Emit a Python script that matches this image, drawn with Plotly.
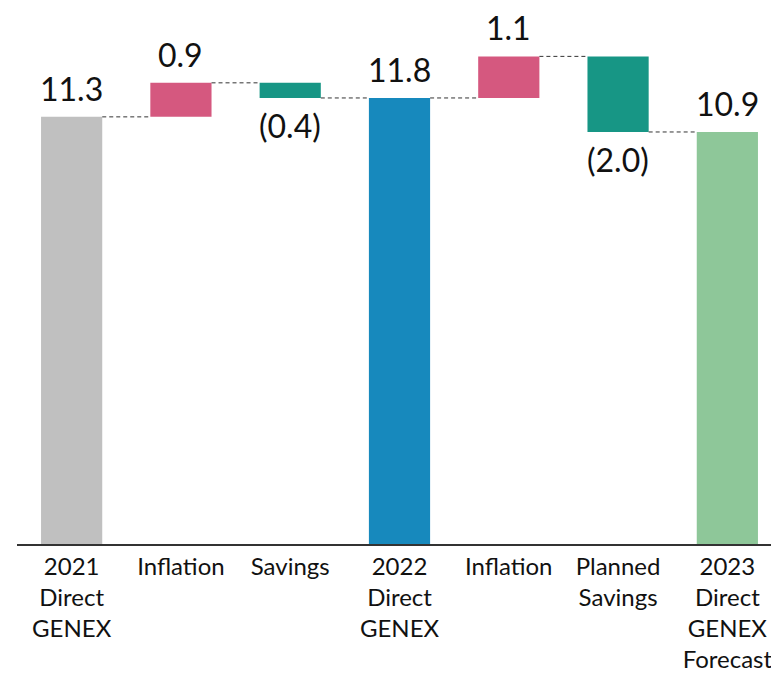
import plotly.graph_objects as go

categories = ["2021<br>Direct<br>GENEX", "Inflation", "Savings", "2022<br>Direct<br>GENEX",
              "Inflation", "Planned<br>Savings", "2023<br>Direct<br>GENEX<br>Forecast"]
measures = ["absolute", "relative", "relative", "total", "relative", "relative", "total"]
values = [11.3, 0.9, -0.4, None, 1.1, -2.0, None]
colors = ["#c0c0c0", "#d5587f", "#179685", "#1789bd", "#d5587f", "#179685", "#8ec799"]

# compute bases / heights from data
bases, heights, running = [], [], 0.0
for m, v in zip(measures, values):
    if m == "absolute":
        running = v
        bases.append(0); heights.append(v)
    elif m == "total":
        bases.append(0); heights.append(round(running, 2))
    else:
        bases.append(round(running, 2)); heights.append(v)
        running += v
ends = [b + h for b, h in zip(bases, heights)]
labels = [f"{h:.1f}" if h >= 0 else f"({abs(h):.1f})" for h in heights]

x_idx = list(range(len(categories)))
W = 0.56

fig = go.Figure(go.Bar(
    x=x_idx, y=heights, base=bases, width=W,
    marker=dict(color=colors, line=dict(width=0)),
    hoverinfo="skip",
))

shapes = []
for i in range(len(categories) - 1):
    lvl = ends[i]
    shapes.append(dict(type="line", xref="x", yref="y",
                       x0=i + W / 2, x1=i + 1 - W / 2, y0=lvl, y1=lvl,
                       line=dict(color="#333333", width=1, dash="4px,3px")))

annotations = []
for i, (b, h, lab) in enumerate(zip(bases, heights, labels)):
    if h >= 0:
        annotations.append(dict(x=i, y=b + h, xref="x", yref="y", text=lab,
                                showarrow=False, yanchor="bottom", yshift=7,
                                font=dict(size=32, color="#111111", family="Lato")))
    else:
        annotations.append(dict(x=i, y=b + h, xref="x", yref="y", text=lab,
                                showarrow=False, yanchor="top", yshift=-6,
                                font=dict(size=32, color="#111111", family="Lato")))

fig.update_layout(
    width=779, height=667,
    margin=dict(l=9, r=5, t=0, b=131),
    plot_bgcolor="white", paper_bgcolor="white",
    showlegend=False, shapes=shapes, annotations=annotations,
    font=dict(family="Lato", color="#111111"),
    xaxis=dict(tickmode="array", tickvals=x_idx, ticktext=categories,
               range=[-0.5, len(categories) - 0.5],
               showline=True, linecolor="#333333", linewidth=2,
               showgrid=False, ticks="", tickfont=dict(size=24, color="#111111"),
               automargin=False),
    yaxis=dict(range=[0, 14.18], visible=False, showgrid=False),
)

fig.write_html("out.html")
